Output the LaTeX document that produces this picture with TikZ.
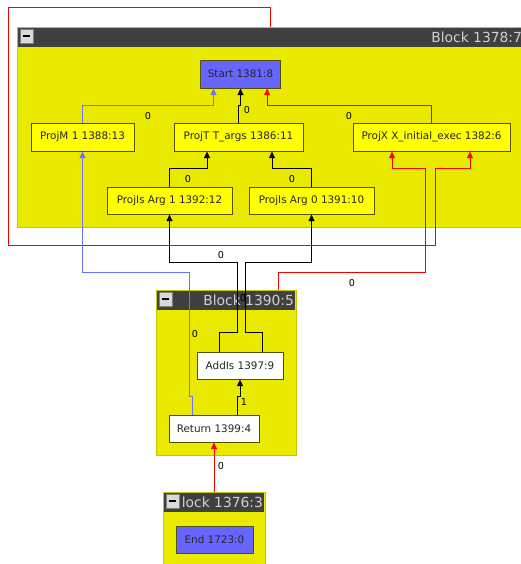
\documentclass[tikz,border=0pt]{standalone}
\usepackage{fontspec}
\setmainfont{DejaVu Sans}
\usetikzlibrary{arrows.meta,calc,positioning}
\definecolor{blockyellow}{RGB}{234,234,0}
\definecolor{nodeyellow}{RGB}{255,255,0}
\definecolor{startblue}{RGB}{102,102,255}
\definecolor{bardark}{RGB}{64,64,64}
\definecolor{edgeblue}{RGB}{112,112,255}
\definecolor{edgered}{RGB}{255,0,0}
\definecolor{nodeborder}{RGB}{80,80,0}
\tikzset{
  block/.style={draw=blockyellow!85!black, fill=blockyellow, inner sep=0pt},
  irnode/.style={draw=nodeborder, line width=0.75pt, fill=nodeyellow, inner sep=0pt,
    minimum height=20.25pt, font=\fontsize{7.8}{9}\selectfont, text=black!85},
  startnode/.style={irnode, fill=startblue},
  retnode/.style={irnode, fill=white},
  blocktitle/.style={text=black!18, font=\fontsize{10.4}{12}\selectfont, inner sep=0pt},
  minbtn/.style={draw=black!50, fill=black!15, inner sep=0pt, minimum width=9.75pt, minimum height=10.5pt},
  edge/.style={line width=0.6pt, -{Triangle[length=5pt,width=4.5pt]}},
  lbl/.style={font=\fontsize{7.2}{8}\selectfont, inner sep=0pt}
}

\begin{document}
\begin{tikzpicture}[x=0.75pt, y=-0.75pt]
        \useasboundingbox (0,0) rectangle (521,564);
        % Blocks
        \node[block, minimum width=380.25pt, minimum height=150pt] (b1378) at (270.5,127) {};
        \node[block, minimum width=105pt, minimum height=123.75pt] (b1390) at (226,372.5) {};
        \node[block, minimum width=76.5pt, minimum height=58.5pt] (b1376) at (214,531) {};
        \foreach \b/\t in {b1378/Block 1378:7, b1390/Block 1390:5, b1376/lock 1376:3} {
            \fill[bardark] ([shift={(1,1)}]\b.north west) rectangle ([shift={(-1,20)}]\b.north east);
            \node[blocktitle, anchor=east] (\b title) at ([shift={(-2,10.5)}]\b.north east) {\t};
            \node[minbtn, anchor=north west] (\b btn) at ([shift={(3,2)}]\b.north west) {};
            \draw[line width=1.5pt] ([xshift=2.2pt]\b btn.west) -- ([xshift=-2.2pt]\b btn.east);
          }
        % Nodes
        \node[startnode, minimum width=60pt, minimum height=21pt] (start) at (240.5,74) {Start 1381:8};
        \node[irnode, minimum width=77.25pt, minimum height=21pt] (projm) at (82.5,137) {ProjM 1 1388:13};
        \node[irnode, minimum width=96.75pt, minimum height=21pt] (projt) at (238.5,137) {ProjT T\_args 1386:11};
        \node[irnode, minimum width=117.75pt, minimum height=21pt] (projx) at (431.5,137) {ProjX X\_initial\_exec 1382:6};
        \node[irnode, minimum width=93.75pt] (arg1) at (169.5,200.5) {ProjIs Arg 1 1392:12};
        \node[irnode, minimum width=93.75pt] (arg0) at (311.5,200.5) {ProjIs Arg 0 1391:10};
        \node[retnode, minimum width=64.5pt] (addls) at (240,365.5) {AddIs 1397:9};
        \node[retnode, minimum width=67.5pt] (ret) at (214,428.5) {Return 1399:4};
        \node[startnode, minimum width=57.75pt] (endn) at (214.5,539.5) {End 1723:0};
        % Edges into Start
        \draw[edge, edgeblue] (projm.north) -- ++(0,-17) -| ([xshift=-20.25pt]start.south);
        \draw[edge] (projt.north) -- ++(0,-17) -| (start.south);
        \draw[edge, edgered] (projx.north) -- ++(0,-17) -| ([xshift=20pt]start.south);
        % Edges into ProjT and ProjX
        \draw[edge] (arg1.north) -- ++(0,-18) -| ([xshift=-23.6pt]projt.south);
        \draw[edge] (arg0.north) -- ++(0,-18) -| ([xshift=25.1pt]projt.south);
        \draw[edge, edgered] ([xshift=39pt]b1390.north) -- ++(0,-17) -| ++(147,-104) -| ([xshift=-29.6pt]projx.south);
        \draw[edge, edgered] (b1378.north) -- ++(0,-19) -| ++(-262,238) -| ++(427,-77) -| ([xshift=28.9pt]projx.south);
        % Operands of the Add
        \draw[edge] ([xshift=-15.75pt]addls.north) -- ++(0,-19) -- ++(18,0) -- ++(0,-70) -| (arg1.south);
        \draw[edge] ([xshift=16.5pt]addls.north) -- ++(0,-19) -- ++(-17,0) -- ++(0,-70) -| (arg0.south);
        % Return
        \draw[edge] ([xshift=17.25pt]ret.north) -- ++(0,-18) -| (addls.south);
        \draw[edge, edgeblue] ([xshift=-16.5pt]ret.north) -- ++(0,-18) -- ++(-3,0) -- ++(0,-124) -| (projm.south);
        \draw[edge, edgered] (b1376.north) -- (ret.south);
        % Edge labels
        \foreach \p/\t [count=\i] in {(148,116)/0, (247,110)/0, (349,116)/0, (188,179)/0, (292,179)/0,
            (221,255)/0, (352,283)/0, (243,298)/0, (195,334)/0, (244,402)/1, (221,466)/0} {
            \node[lbl] (lbl\i) at \p {\t};
          }
      \end{tikzpicture}
\end{document}
